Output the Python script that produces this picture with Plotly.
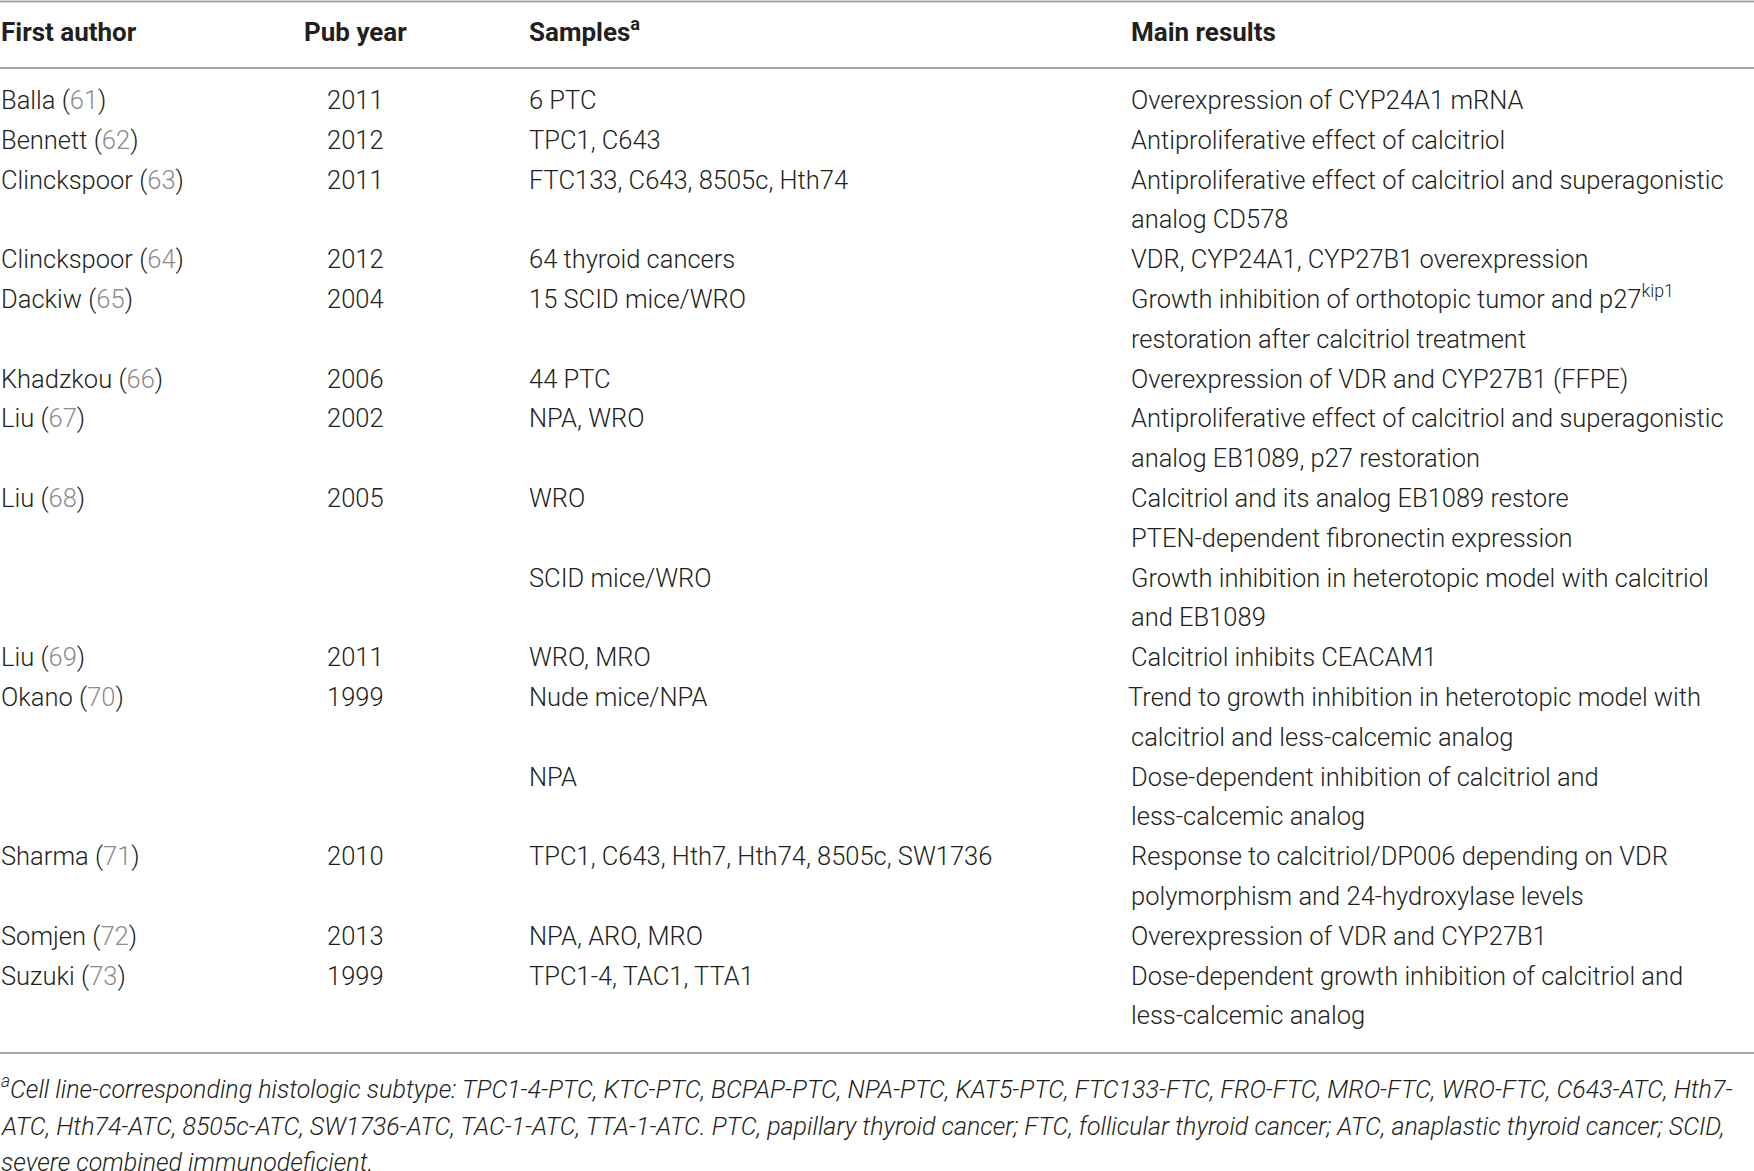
import plotly.graph_objects as go

# table content
authors = ["Balla", "Bennett", "Clinckspoor", "Clinckspoor", "Dackiw", "Khadzkou",
           "Liu", "Liu", "Liu", "Okano", "Sharma", "Somjen", "Suzuki"]
refs = [61, 62, 63, 64, 65, 66, 67, 68, 69, 70, 71, 72, 73]
years = [2011, 2012, 2011, 2012, 2004, 2006, 2002, 2005, 2011, 1999, 2010, 2013, 1999]
samples = [
    ["6 PTC"],
    ["TPC1, C643"],
    ["FTC133, C643, 8505c, Hth74"],
    ["64 thyroid cancers"],
    ["15 SCID mice/WRO"],
    ["44 PTC"],
    ["NPA, WRO"],
    ["WRO", "SCID mice/WRO"],
    ["WRO, MRO"],
    ["Nude mice/NPA", "NPA"],
    ["TPC1, C643, Hth7, Hth74, 8505c, SW1736"],
    ["NPA, ARO, MRO"],
    ["TPC1-4, TAC1, TTA1"],
]
results = [
    [["Overexpression of CYP24A1 mRNA"]],
    [["Antiproliferative effect of calcitriol"]],
    [["Antiproliferative effect of calcitriol and superagonistic", "analog CD578"]],
    [["VDR, CYP24A1, CYP27B1 overexpression"]],
    [["Growth inhibition of orthotopic tumor and p27<sup>kip1</sup>",
      "restoration after calcitriol treatment"]],
    [["Overexpression of VDR and CYP27B1 (FFPE)"]],
    [["Antiproliferative effect of calcitriol and superagonistic",
      "analog EB1089, p27 restoration"]],
    [["Calcitriol and its analog EB1089 restore", "PTEN-dependent fibronectin expression"],
     ["Growth inhibition in heterotopic model with calcitriol", "and EB1089"]],
    [["Calcitriol inhibits CEACAM1"]],
    [["Trend to growth inhibition in heterotopic model with",
      "calcitriol and less-calcemic analog"],
     ["Dose-dependent inhibition of calcitriol and", "less-calcemic analog"]],
    [["Response to calcitriol/DP006 depending on VDR",
      "polymorphism and 24-hydroxylase levels"]],
    [["Overexpression of VDR and CYP27B1"]],
    [["Dose-dependent growth inhibition of calcitriol and", "less-calcemic analog"]],
]
headers = ["First author", "Pub year", "Samples<sup>a</sup>", "Main results"]
footnote = [
    "<sup>a</sup>Cell line-corresponding histologic subtype: TPC1-4-PTC, KTC-PTC, BCPAP-PTC, "
    "NPA-PTC, KAT5-PTC, FTC133-FTC, FRO-FTC, MRO-FTC, WRO-FTC, C643-ATC, Hth7-",
    "ATC, Hth74-ATC, 8505c-ATC, SW1736-ATC, TAC-1-ATC, TTA-1-ATC. PTC, papillary thyroid cancer; "
    "FTC, follicular thyroid cancer; ATC, anaplastic thyroid cancer; SCID,",
    "severe combined immunodeficient.",
]

W, H = 1754, 1171
FONT = "Roboto, Liberation Sans, sans-serif"
TXT = "#231f20"
REFC = "#8c8c8c"
RULE = "#a6a6a6"
X_AUTH, X_YEAR, X_SAMP, X_RES = 0, 355, 528, 1130
Y_HEAD, ROW0, PITCH = 32, 100, 39.8
BODY = 25.5

fig = go.Figure()
ann = []


def add(x, y, text, anchor="left", size=BODY, italic=False, weight=300):
    if "<sup>" in text:
        y -= 0.09 * size
    ann.append(dict(x=x, y=y, xref="x", yref="y", text=text, showarrow=False,
                    xanchor=anchor, yanchor="middle", borderpad=0,
                    font=dict(family=FONT, size=size, color=TXT, weight=weight,
                              style="italic" if italic else "normal")))


for x, h, a in zip([X_AUTH, X_YEAR, X_SAMP, X_RES], headers,
                   ["left", "center", "left", "left"]):
    add(x, Y_HEAD, "<b>" + h + "</b>", a, size=26)

line = 0
for auth, ref, yr, samp, res in zip(authors, refs, years, samples, results):
    y0 = ROW0 + PITCH * line
    add(X_AUTH, y0, f"{auth} (<span style='color:{REFC}'>{ref}</span>)")
    add(X_YEAR, y0, str(yr), "center")
    for s, r in zip(samp, res):
        y = ROW0 + PITCH * line
        add(X_SAMP, y, s)
        for k, txt in enumerate(r):
            xr = X_RES - 3 if txt.startswith("Trend") else X_RES
            add(xr, y + PITCH * k, txt)
        line += len(r)

for k, txt in enumerate(footnote):
    add(0, 1090 + 36 * k, txt, size=25, italic=True)

rules = [1.5, 68, 1053]
shapes = [dict(type="line", xref="x", yref="y", x0=0, x1=W, y0=r, y1=r,
               line=dict(color=RULE, width=2)) for r in rules]

fig.update_layout(
    width=W, height=H,
    margin=dict(l=0, r=0, t=0, b=0),
    paper_bgcolor="white", plot_bgcolor="white",
    xaxis=dict(range=[0, W], visible=False, fixedrange=True),
    yaxis=dict(range=[H, 0], visible=False, fixedrange=True),
    annotations=ann, shapes=shapes, showlegend=False,
)

fig.write_html("out.html", config={"displayModeBar": False},
               post_script="document.body.style.margin='0px';")
